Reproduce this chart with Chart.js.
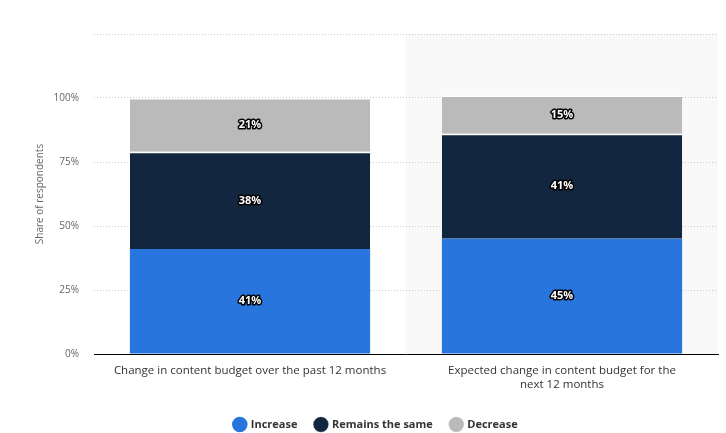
<!DOCTYPE html>
<html>
<head>
<meta charset="utf-8">
<script src="https://cdn.jsdelivr.net/npm/chart.js@4"></script>
<style>
    html, body { margin: 0; padding: 0; background: #fff; }
    #wrap { width: 726px; height: 433px; }
</style>
</head>
<body>
<div id="wrap"><canvas id="chart"></canvas></div>
<script>
// Chart data
const categories = [
    'Change in content budget over the past 12 months',
    ['Expected change in content budget for the', 'next 12 months']
];
const seriesNames = ['Increase', 'Remains the same', 'Decrease'];
const increase = [41, 45];
const remainsSame = [38, 41];
const decrease = [21, 15];
const yTicks = [0, 25, 50, 75, 100, 125];

const COLORS = ['#2876dd', '#12263f', '#bababa'];
const FONT = "'Open Sans', sans-serif";

// Light background behind the second category
const highlightPlugin = {
    id: 'highlight',
    beforeDraw(chart) {
        const { ctx, chartArea, scales } = chart;
        const x = scales.x;
        const half = (x.getPixelForValue(1) - x.getPixelForValue(0)) / 2;
        const left = x.getPixelForValue(1) - half;
        ctx.save();
        ctx.fillStyle = '#f9f9f9';
        ctx.fillRect(left, chartArea.top, chartArea.right - left, chartArea.bottom - chartArea.top);
        ctx.restore();
    }
};

// Outlined value labels in the middle of each segment
const labelPlugin = {
    id: 'segLabels',
    afterDatasetsDraw(chart) {
        const { ctx } = chart;
        ctx.save();
        ctx.font = 'bold 11px ' + FONT;
        ctx.textAlign = 'center';
        ctx.textBaseline = 'middle';
        ctx.lineJoin = 'round';
        chart.data.datasets.forEach((ds, i) => {
            chart.getDatasetMeta(i).data.forEach((bar, j) => {
                const text = ds.data[j] + '%';
                const y = (bar.y + bar.base) / 2;
                ctx.lineWidth = 3;
                ctx.strokeStyle = '#000';
                ctx.strokeText(text, bar.x, y);
                ctx.fillStyle = '#fff';
                ctx.fillText(text, bar.x, y);
            });
        });
        ctx.restore();
    }
};

const seriesData = [increase, remainsSame, decrease];

new Chart(document.getElementById('chart'), {
    type: 'bar',
    data: {
        labels: categories,
        datasets: seriesNames.map((name, i) => ({
            label: name,
            data: seriesData[i],
            backgroundColor: COLORS[i],
            borderColor: '#fff',
            borderWidth: i === 0 ? 0 : { top: 1.5, bottom: 0, left: 0, right: 0 },
            borderSkipped: false,
            categoryPercentage: 1,
            barPercentage: 0.77
        }))
    },
    options: {
        responsive: true,
        maintainAspectRatio: false,
        animation: false,
        layout: { padding: { left: 34, right: 8, top: 34, bottom: -7 } },
        plugins: {
            legend: {
                position: 'bottom',
                labels: {
                    usePointStyle: true,
                    pointStyle: 'circle',
                    boxWidth: 14,
                    boxHeight: 11,
                    padding: 18,
                    color: '#333',
                    font: { family: FONT, size: 11, weight: 'bold' }
                }
            },
            tooltip: { enabled: false }
        },
        scales: {
            x: {
                stacked: true,
                grid: { display: false, drawTicks: false },
                border: { display: true, color: '#000', width: 1 },
                ticks: {
                    padding: 10,
                    color: '#333',
                    maxRotation: 0,
                    font: { family: FONT, size: 11.5 }
                },
                afterFit(scale) { scale.height = 47; }
            },
            y: {
                stacked: true,
                min: 0,
                max: 125,
                afterBuildTicks(scale) {
                    scale.ticks = yTicks.map(v => ({ value: v }));
                },
                grid: {
                    drawTicks: false,
                    color: ctx => ctx.tick && ctx.tick.value === 0 ? 'transparent' : '#c8c8c8',
                    lineWidth: 1
                },
                border: { display: false, dash: [1, 2] },
                ticks: {
                    padding: 15,
                    color: '#666',
                    font: { family: FONT, size: 10 },
                    callback: v => v > 100 ? '' : v + '%'
                },
                title: {
                    display: true,
                    text: 'Share of respondents',
                    color: '#666',
                    font: { family: FONT, size: 10 },
                    padding: { top: 0, bottom: 0 }
                },
                afterFit(scale) { scale.width = 60; }
            }
        }
    },
    plugins: [highlightPlugin, labelPlugin]
});
</script>
</body>
</html>
